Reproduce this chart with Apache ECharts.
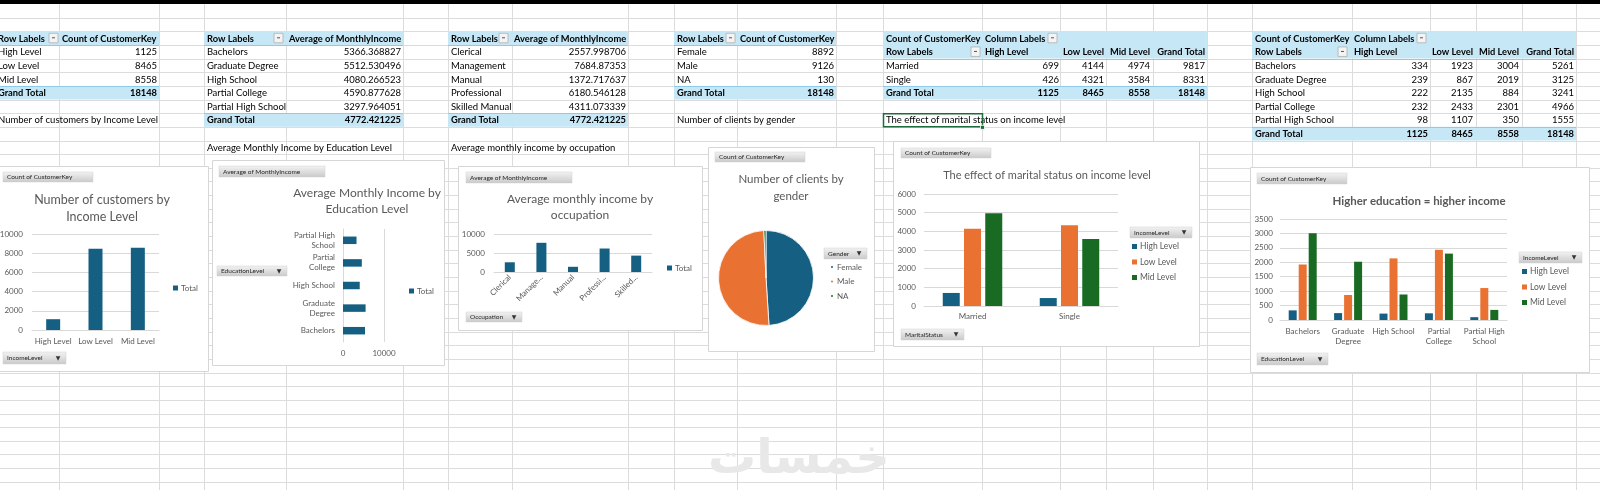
<!DOCTYPE html>
<html><head><meta charset="utf-8">
<script src="https://cdn.jsdelivr.net/npm/echarts@6.0.0/dist/echarts.min.js"></script>
<style>html,body{margin:0;padding:0;background:#fff;overflow:hidden}#c{width:1600px;height:490px}</style>
</head><body><div id="c"></div>
<script>
// ---------------- DATA ----------------
const incomeLevels = ['High Level', 'Low Level', 'Mid Level'];
const incomeCounts = [1125, 8465, 8558];
const incomeGrandTotal = 18148;

const educationLevels = ['Bachelors', 'Graduate Degree', 'High School', 'Partial College', 'Partial High School'];
const educationTickLabels = ['Bachelors', 'Graduate\nDegree', 'High School', 'Partial\nCollege', 'Partial High\nSchool'];
const eduAvgIncome = [5366.368827, 5512.530496, 4080.266523, 4590.877628, 3297.964051];
const eduAvgGrandTotal = 4772.421225;

const occupations = ['Clerical', 'Management', 'Manual', 'Professional', 'Skilled Manual'];
const occupationTickLabels = ['Clerical', 'Manage...', 'Manual', 'Professi...', 'Skilled...'];
const occAvgIncome = [2557.998706, 7684.87353, 1372.717637, 6180.546128, 4311.073339];
const occAvgGrandTotal = 4772.421225;

const genders = ['Female', 'Male', 'NA'];
const genderCounts = [8892, 9126, 130];
const genderGrandTotal = 18148;

const maritalStatuses = ['Married', 'Single'];
const maritalHigh = [699, 426];
const maritalLow = [4144, 4321];
const maritalMid = [4974, 3584];
const maritalRowTotals = [9817, 8331];
const maritalGrand = [1125, 8465, 8558, 18148];

const eduHigh = [334, 239, 222, 232, 98];
const eduLow = [1923, 867, 2135, 2433, 1107];
const eduMid = [3004, 2019, 884, 2301, 350];
const eduRowTotals = [5261, 3125, 3241, 4966, 1555];
const eduGrand = [1125, 8465, 8558, 18148];

const notes = {
  t1: 'Number of customers by Income Level',
  t2: 'Average Monthly Income by Education Level',
  t3: 'Average monthly income by occupation',
  t4: 'Number of clients by gender',
  t5: 'The effect of marital status on income level'
};

// ---------------- STYLE ----------------
const FONT = 'Lato, "Noto Sans", sans-serif';
const BLUE = '#156082', ORANGE = '#E97132', GREEN = '#196B24';
const HDR = '#C6E7F6', GRIDC = '#DCDCDC', AX = '#595959', BORDER = '#8FCBE8';
const rowY = k => 4 + 13.65 * k;
const colX = [59,159,204,286,403,448,512,628,674,737,836,883,982,1060,1106,1153,1207,1252,1352,1430,1476,1522,1576];

const g = [];
// sheet gridlines
for (let k = 1; k < 37; k++) {
  const y = Math.round(rowY(k)) + 0.5;
  g.push({type:'line', z:0, silent:true, shape:{x1:0,y1:y,x2:1600,y2:y}, style:{stroke:GRIDC, lineWidth:1}});
}
colX.forEach(x => g.push({type:'line', z:0, silent:true, shape:{x1:x+0.5,y1:4,x2:x+0.5,y2:490}, style:{stroke:GRIDC, lineWidth:1}}));
g.push({type:'rect', z:1, silent:true, shape:{x:0,y:0,width:1600,height:4}, style:{fill:'#000'}});

function T(x, k, text, o) {
  o = o || {};
  const al = o.align || 'left';
  return {type:'text', z:4, silent:true, x:x, y:rowY(k) + 7.2,
    style:{text:String(text), fill:o.color || '#000',
      font:(o.bold ? 'bold 9.3' : '9.5') + 'px ' + FONT,
      align:al, textAlign:al, verticalAlign:'middle', textVerticalAlign:'middle'}};
}
function band(x0, x1, k) {
  return {type:'rect', z:2, silent:true, shape:{x:x0, y:rowY(k), width:x1 - x0, height:13.65}, style:{fill:HDR}};
}
function hl(x0, x1, k) {
  const y = Math.round(rowY(k)) + 0.5;
  return {type:'line', z:3, silent:true, shape:{x1:x0,y1:y,x2:x1,y2:y}, style:{stroke:BORDER, lineWidth:1}};
}
function dd(x, k) {
  return [{type:'rect', z:3, silent:true, shape:{x:x, y:rowY(k) + 2, width:9, height:9.5}, style:{fill:'#f4f4f4', stroke:'#b0b0b0', lineWidth:0.8}},
          {type:'line', z:4, silent:true, shape:{x1:x + 3, y1:rowY(k) + 6.5, x2:x + 6, y2:rowY(k) + 6.5}, style:{stroke:'#555', lineWidth:1}}];
}

// simple pivot table
function simplePivot(x0, x1, labelX, ddX, hdr2X, valR, hdr2, labels, values, total, footK, footText) {
  g.push(band(x0, x1, 2));
  g.push(T(labelX, 2, 'Row Labels', {bold:true}));
  g.push(...dd(ddX, 2));
  g.push(T(hdr2X, 2, hdr2, {bold:true}));
  g.push(hl(x0, x1, 3));
  labels.forEach((l, i) => {
    g.push(T(labelX, 3 + i, l));
    g.push(T(valR, 3 + i, values[i], {align:'right'}));
  });
  const tk = 3 + labels.length;
  g.push(band(x0, x1, tk));
  g.push(hl(x0, x1, tk));
  g.push(T(labelX, tk, 'Grand Total', {bold:true}));
  g.push(T(valR, tk, total, {bold:true, align:'right'}));
  g.push(T(labelX, footK, footText));
}
simplePivot(-2, 159, -2, 49, 62, 157, 'Count of CustomerKey', incomeLevels, incomeCounts, incomeGrandTotal, 8, notes.t1);
simplePivot(204, 403, 207, 274, 289, 401, 'Average of MonthlyIncome', educationLevels, eduAvgIncome, eduAvgGrandTotal, 10, notes.t2);
simplePivot(448, 628, 451, 499, 514, 626, 'Average of MonthlyIncome', occupations, occAvgIncome, occAvgGrandTotal, 10, notes.t3);
simplePivot(674, 836, 677, 726, 740, 834, 'Count of CustomerKey', genders, genderCounts, genderGrandTotal, 8, notes.t4);

// cross-tab pivot
function crossPivot(x0, x1, labelX, colLabX, dd1X, dd2X, valRs, rows, cols, grand) {
  g.push(band(x0, x1, 2), band(x0, x1, 3));
  g.push(T(labelX, 2, 'Count of CustomerKey', {bold:true}));
  g.push(T(colLabX, 2, 'Column Labels', {bold:true}));
  g.push(...dd(dd1X, 2));
  g.push(T(labelX, 3, 'Row Labels', {bold:true}));
  g.push(...dd(dd2X, 3));
  g.push(T(colLabX, 3, incomeLevels[0], {bold:true}));
  g.push(T(valRs[1], 3, incomeLevels[1], {bold:true, align:'right'}));
  g.push(T(valRs[2], 3, incomeLevels[2], {bold:true, align:'right'}));
  g.push(T(valRs[3], 3, 'Grand Total', {bold:true, align:'right'}));
  g.push(hl(x0, x1, 4));
  rows.forEach((r, i) => {
    g.push(T(labelX, 4 + i, r));
    cols.forEach((c, j) => g.push(T(valRs[j], 4 + i, c[i], {align:'right'})));
  });
  const tk = 4 + rows.length;
  g.push(band(x0, x1, tk), hl(x0, x1, tk));
  g.push(T(labelX, tk, 'Grand Total', {bold:true}));
  grand.forEach((v, j) => g.push(T(valRs[j], tk, v, {bold:true, align:'right'})));
}
crossPivot(883, 1207, 886, 985, 1048, 971, [1059, 1104, 1150, 1205], maritalStatuses, [maritalHigh, maritalLow, maritalMid, maritalRowTotals], maritalGrand);
crossPivot(1252, 1576, 1255, 1354, 1417, 1338, [1428, 1473, 1519, 1574], educationLevels, [eduHigh, eduLow, eduMid, eduRowTotals], eduGrand);
g.push(T(886, 8, notes.t5));
g.push({type:'rect', z:5, silent:true, shape:{x:883.5, y:rowY(8) + 0.5, width:99, height:13}, style:{fill:'none', stroke:'#1E6B3C', lineWidth:1.5}});
g.push({type:'rect', z:5, silent:true, shape:{x:980.5, y:rowY(9) - 1.5, width:4, height:4}, style:{fill:'#1E6B3C', stroke:'#fff', lineWidth:0.8}});

// chart boxes
function box(x0, y0, x1, y1) {
  g.push({type:'rect', z:1, silent:true, shape:{x:x0 + 0.5, y:y0 + 0.5, width:x1 - x0, height:y1 - y0}, style:{fill:'#fff', stroke:'#D6D6D6', lineWidth:1}});
}
box(-3, 166, 208, 371);
box(212, 160, 444, 365);
box(458, 166, 702, 330);
box(708, 147, 874, 351);
box(893, 141, 1199, 346);
box(1250, 167, 1589, 372);

// field buttons
function btn(x, y, w, h, text, arrow) {
  g.push({type:'rect', z:4, silent:true, shape:{x:x, y:y, width:w, height:h},
    style:{fill:{type:'linear', x:0, y:0, x2:0, y2:1, colorStops:[{offset:0, color:'#f3f3f3'}, {offset:1, color:'#c9c9c9'}]}, stroke:'#d0d0d0', lineWidth:0.5}});
  g.push({type:'text', z:5, silent:true, x:x + 4, y:y + h / 2,
    style:{text:text, fill:'#262626', font:'6.5px ' + FONT, align:'left', textAlign:'left', verticalAlign:'middle', textVerticalAlign:'middle'}});
  if (arrow) {
    g.push({type:'text', z:5, silent:true, x:x + w - 8, y:y + h / 2,
      style:{text:'▼', fill:'#333', font:'6px "DejaVu Sans"', align:'center', textAlign:'center', verticalAlign:'middle', textVerticalAlign:'middle'}});
  }
}
btn(3, 172, 90, 10, 'Count of CustomerKey');
btn(3, 352, 63, 12, 'IncomeLevel', true);
btn(219, 166, 106, 11, 'Average of MonthlyIncome');
btn(217, 266, 70, 10, 'EducationLevel', true);
btn(466, 172, 106, 11, 'Average of MonthlyIncome');
btn(466, 312, 56, 10, 'Occupation', true);
btn(715, 152, 90, 10, 'Count of CustomerKey');
btn(824, 248, 43, 11, 'Gender', true);
btn(901, 148, 90, 10, 'Count of CustomerKey');
btn(1130, 227, 62, 11, 'IncomeLevel', true);
btn(901, 329, 63, 11, 'MaritalStatus', true);
btn(1257, 173, 90, 11, 'Count of CustomerKey');
btn(1519, 252, 63, 11, 'IncomeLevel', true);
btn(1257, 353, 71, 12, 'EducationLevel', true);

// watermark
g.push({type:'text', z:1, silent:true, x:799, y:461,
  style:{text:'خمسات', fill:'#E8E8E8', font:'bold 48px "DejaVu Sans"', align:'center', textAlign:'center', verticalAlign:'middle', textVerticalAlign:'middle'}});

// ---------------- AXES ----------------
const lab = (m, extra) => Object.assign({color:AX, fontSize:8, fontFamily:FONT, margin:m}, extra || {});
function valAxis(gi, max, interval, margin, extra) {
  return Object.assign({type:'value', gridIndex:gi, min:0, max:max, interval:interval, z:3,
    axisLine:{show:false}, axisTick:{show:false},
    splitLine:{show:true, lineStyle:{color:'#D9D9D9', width:1}},
    axisLabel:lab(margin, {formatter:v => String(v)})}, extra || {});
}
function catAxis(gi, data, margin, labelExtra) {
  return {type:'category', gridIndex:gi, data:data, z:3,
    axisLine:{show:true, lineStyle:{color:'#D9D9D9'}}, axisTick:{show:false},
    splitLine:{show:false},
    axisLabel:lab(margin, Object.assign({interval:0}, labelExtra || {}))};
}

const grids = [
  {left:32, top:234, width:127, height:96},
  {left:343, top:229, width:41, height:113},
  {left:494, top:234, width:158, height:38},
  {left:924, top:194, width:194, height:112},
  {left:1280, top:219, width:227, height:101}
].map(o => Object.assign(o, {containLabel:false, outerBoundsMode:'none'}));

const xAxis = [
  catAxis(0, incomeLevels, 7),
  valAxis(1, 10000, 10000, 7),
  catAxis(2, occupations, 4, {rotate:45, formatter:(v, i) => occupationTickLabels[i]}),
  catAxis(3, maritalStatuses, 6),
  catAxis(4, educationLevels, 6, {lineHeight:10, formatter:(v, i) => educationTickLabels[i]})
];
const yAxis = [
  valAxis(0, 10000, 2000, 9),
  catAxis(1, educationLevels, 8, {lineHeight:10, align:'right', formatter:(v, i) => educationTickLabels[i]}),
  valAxis(2, 10000, 5000, 9),
  valAxis(3, 6000, 1000, 8),
  valAxis(4, 3500, 500, 7)
];

const bar = (name, data, idx, color, w, gap) => ({type:'bar', name:name, data:data, xAxisIndex:idx, yAxisIndex:idx,
  itemStyle:{color:color}, barWidth:w, barGap:gap || '0%', z:4, silent:true});

const series = [
  bar('Total', incomeCounts, 0, BLUE, 14),
  bar('Total', eduAvgIncome, 1, BLUE, 7.5),
  bar('Total', occAvgIncome, 2, BLUE, 10),
  bar('High Level', maritalHigh, 3, BLUE, 17, '25%'),
  bar('Low Level', maritalLow, 3, ORANGE, 17, '25%'),
  bar('Mid Level', maritalMid, 3, GREEN, 17, '25%'),
  bar('High Level', eduHigh, 4, BLUE, 8, '25%'),
  bar('Low Level', eduLow, 4, ORANGE, 8, '25%'),
  bar('Mid Level', eduMid, 4, GREEN, 8, '25%'),
  {type:'pie', name:'Gender', center:[766, 278], radius:47.5, startAngle:90, clockwise:true, z:4, silent:true,
    label:{show:false}, labelLine:{show:false},
    itemStyle:{borderColor:'#fff', borderWidth:0.8},
    data:genders.map((n, i) => ({name:n, value:genderCounts[i], itemStyle:{color:[BLUE, ORANGE, GREEN][i]}}))}
];

const ttl = (text, x, y, size, lh, bold) => ({text:text, left:x, top:y, textAlign:'center', padding:0,
  textStyle:{fontFamily:FONT, fontSize:size, fontWeight:bold ? 'bold' : 'normal', color:AX, lineHeight:lh}});
const titles = [
  ttl('Number of customers by\nIncome Level', 102, 191, 12.5, 17),
  ttl('Average Monthly Income by\nEducation Level', 367, 185, 12, 16),
  ttl('Average monthly income by\noccupation', 580, 191, 12, 16),
  ttl('Number of clients by\ngender', 791, 171, 11.5, 17),
  ttl('The effect of marital status on income level', 1047, 168, 11, 14),
  ttl('Higher education = higher income', 1419, 194, 11.5, 14, true)
];

const leg = (data, x, y, o) => Object.assign({data:data, left:x, top:y, orient:'vertical', padding:0,
  itemWidth:5, itemHeight:5, itemGap:6, icon:'rect', selectedMode:false,
  textStyle:{fontFamily:FONT, fontSize:8, color:AX, padding:[0, 0, 0, -2]}}, o || {});
const legends = [
  leg(['Total'], 173, 284),
  leg(['Total'], 409, 287),
  leg(['Total'], 667, 264),
  leg(genders, 829, 263, {icon:'circle', itemWidth:4, itemHeight:4, itemGap:6.5}),
  leg(incomeLevels, 1132, 242, {itemGap:6.5, textStyle:{fontFamily:FONT, fontSize:8.5, color:AX, padding:[0,0,0,-2]}}),
  leg(incomeLevels, 1522, 267, {itemGap:6.5, textStyle:{fontFamily:FONT, fontSize:8.5, color:AX, padding:[0,0,0,-2]}})
];

const chart = echarts.init(document.getElementById('c'), null, {renderer:'canvas'});
chart.setOption({
  animation:false,
  backgroundColor:'#fff',
  textStyle:{fontFamily:FONT},
  title:titles,
  legend:legends,
  grid:grids,
  xAxis:xAxis,
  yAxis:yAxis,
  series:series,
  graphic:{elements:g}
});
</script></body></html>
